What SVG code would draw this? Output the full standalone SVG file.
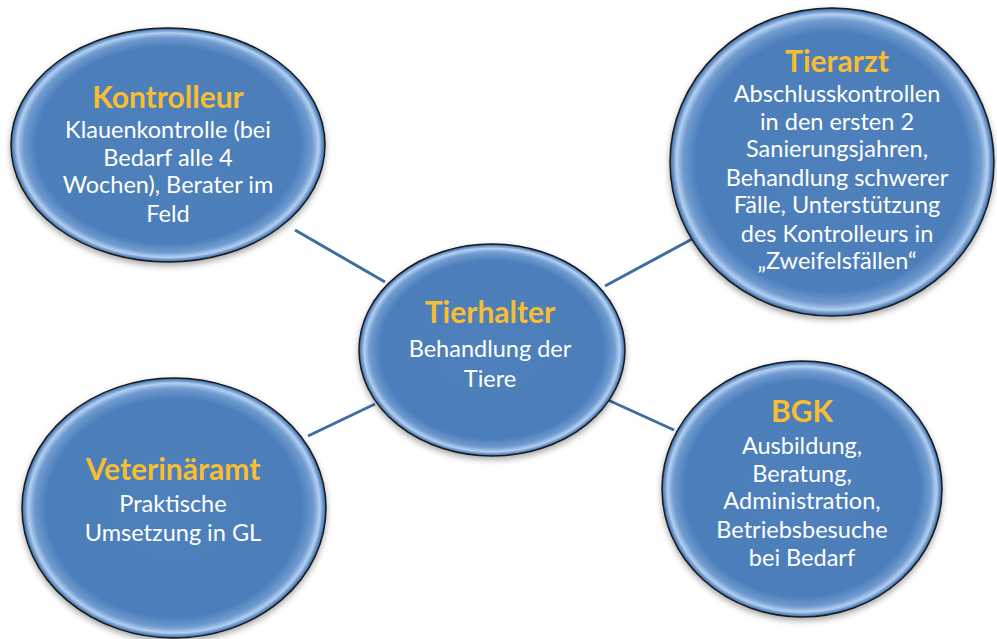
<svg xmlns="http://www.w3.org/2000/svg" width="997" height="639" viewBox="0 0 997 639">
<defs>
<radialGradient id="glass" cx="0.5" cy="0.5" r="0.5">
<stop offset="0" stop-color="#4f80bc"/>
<stop offset="0.84" stop-color="#4c7eba"/>
<stop offset="0.92" stop-color="#6f9bd0"/>
<stop offset="0.96" stop-color="#b4cff0"/>
<stop offset="0.985" stop-color="#5c8bc4"/>
<stop offset="1" stop-color="#3b679c"/>
</radialGradient>
<filter id="shadow" x="-10%" y="-10%" width="120%" height="125%">
<feGaussianBlur in="SourceAlpha" stdDeviation="3"/>
<feOffset dx="0" dy="3" result="b"/>
<feComponentTransfer><feFuncA type="linear" slope="0.35"/></feComponentTransfer>
<feMerge><feMergeNode/><feMergeNode in="SourceGraphic"/></feMerge>
</filter>
</defs>
<style>
.node ellipse{fill:url(#glass);stroke:#1a1a1a;stroke-width:1.5;filter:url(#shadow)}
.t{font-family:Lato,"Open Sans",sans-serif;font-weight:700;font-size:30px;fill:#f7be32;text-anchor:middle}
.b{font-family:Lato,"Open Sans",sans-serif;font-size:23.5px;fill:#ffffff;text-anchor:middle}
.conn line{stroke:#3e6d9f;stroke-width:3}
</style>
<rect width="997" height="639" fill="#ffffff"/>
<g id="connectors" class="conn">
<line x1="295" y1="230" x2="385" y2="282"/>
<line x1="605" y1="286" x2="694" y2="238"/>
<line x1="375" y1="404" x2="308" y2="436"/>
<line x1="608" y1="400" x2="674" y2="430"/>
</g>
<g id="kontrolleur" class="node">
<ellipse cx="168" cy="145" rx="157" ry="117"/>
<text class="t" x="168" y="108">Kontrolleur</text>
<text class="b" x="168" y="138">Klauenkontrolle (bei</text>
<text class="b" x="168" y="166">Bedarf alle 4</text>
<text class="b" x="168" y="193">Wochen), Berater im</text>
<text class="b" x="168" y="222">Feld</text>
</g>
<g id="tierarzt" class="node">
<ellipse cx="832" cy="162" rx="162" ry="154"/>
<text class="t" x="837" y="72">Tierarzt</text>
<text class="b" x="837" y="102">Abschlusskontrollen</text>
<text class="b" x="837" y="130">in den ersten 2</text>
<text class="b" x="837" y="157">Sanierungsjahren,</text>
<text class="b" x="837" y="186">Behandlung schwerer</text>
<text class="b" x="837" y="213">Fälle, Unterstützung</text>
<text class="b" x="837" y="242">des Kontrolleurs in</text>
<text class="b" x="837" y="269">„Zweifelsfällen“</text>
</g>
<g id="tierhalter" class="node">
<ellipse cx="492" cy="350" rx="133" ry="106"/>
<text class="t" x="490" y="323">Tierhalter</text>
<text class="b" x="490" y="357">Behandlung der</text>
<text class="b" x="490" y="387">Tiere</text>
</g>
<g id="veterinaeramt" class="node">
<ellipse cx="174" cy="508" rx="152" ry="130"/>
<text class="t" x="173" y="480">Veterinäramt</text>
<text class="b" x="173" y="512">Praktische</text>
<text class="b" x="173" y="541">Umsetzung in GL</text>
</g>
<g id="bgk" class="node">
<ellipse cx="802" cy="489" rx="140" ry="128"/>
<text class="t" x="802" y="422">BGK</text>
<text class="b" x="802" y="454">Ausbildung,</text>
<text class="b" x="802" y="482">Beratung,</text>
<text class="b" x="802" y="509">Administration,</text>
<text class="b" x="802" y="538">Betriebsbesuche</text>
<text class="b" x="802" y="566">bei Bedarf</text>
</g>
</svg>
